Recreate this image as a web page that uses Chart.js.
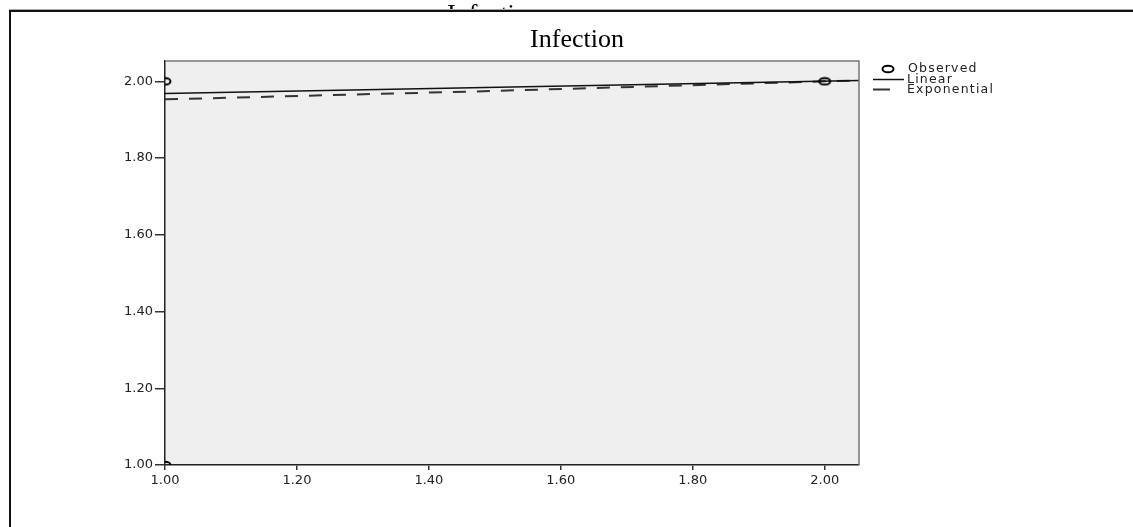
<!DOCTYPE html>
<html>
<head>
<meta charset="utf-8">
<script src="https://cdn.jsdelivr.net/npm/chart.js@4"></script>
<style>body{margin:0;background:#fff}</style>
</head>
<body>
<canvas id="chart" width="1133" height="527"></canvas>
<script>
const chartTitle = 'Infection';
const xTicks = [1.0, 1.2, 1.4, 1.6, 1.8, 2.0];
const yTicks = [1.0, 1.2, 1.4, 1.6, 1.8, 2.0];
const observedX = [1.0, 2.0, 1.0];
const observedY = [2.0, 2.0, 1.0];
const linearX = [1.0, 2.052];
const linearY = [1.968, 2.002];
const expX = [1.0, 1.5, 2.0, 2.052];
const expY = [1.953, 1.975, 2.0, 2.002];
const legendLabels = ['Observed', 'Linear', 'Exponential'];

function pts(xs, ys) {
  return xs.map((x, i) => ({ x: x, y: ys[i] }));
}

// little flattened ring, the observed marker
const ring = document.createElement('canvas');
ring.width = 16;
ring.height = 10;
(function () {
  const c = ring.getContext('2d');
  c.strokeStyle = '#000';
  c.lineWidth = 2;
  c.beginPath();
  c.ellipse(8, 5, 5.5, 3.3, 0, 0, Math.PI * 2);
  c.stroke();
})();

const decor = {
  id: 'decor',
  beforeDraw(chart) {
    const ctx = chart.ctx;
    const a = chart.chartArea;
    ctx.save();
    ctx.fillStyle = '#fff';
    ctx.fillRect(0, 0, chart.width, chart.height);
    ctx.fillStyle = '#efefef';
    ctx.fillRect(a.left, a.top, a.right - a.left, a.bottom - a.top);

    // caption cut off by the frame
    ctx.save();
    ctx.beginPath();
    ctx.rect(0, 0, chart.width, 10);
    ctx.clip();
    ctx.fillStyle = '#000';
    ctx.font = '26px "Liberation Serif"';
    ctx.textAlign = 'left';
    ctx.textBaseline = 'alphabetic';
    ctx.fillText(chartTitle, 447, 22);
    ctx.restore();

    // outer frame
    ctx.strokeStyle = '#aaa';
    ctx.lineWidth = 1;
    ctx.beginPath();
    ctx.moveTo(9, 9.5);
    ctx.lineTo(chart.width, 9.5);
    ctx.stroke();
    ctx.strokeStyle = '#111';
    ctx.lineWidth = 2;
    ctx.beginPath();
    ctx.moveTo(chart.width, 11);
    ctx.lineTo(10, 11);
    ctx.lineTo(10, chart.height);
    ctx.stroke();
    ctx.restore();
  },
  afterDraw(chart) {
    const ctx = chart.ctx;
    const a = chart.chartArea;
    ctx.save();
    ctx.strokeStyle = '#777';
    ctx.lineWidth = 1.5;
    ctx.beginPath();
    ctx.moveTo(a.left, a.top);
    ctx.lineTo(a.right, a.top);
    ctx.lineTo(a.right, a.bottom);
    ctx.stroke();

    ctx.fillStyle = '#000';
    ctx.font = '26px "Liberation Serif"';
    ctx.textAlign = 'center';
    ctx.textBaseline = 'alphabetic';
    ctx.fillText(chartTitle, 577, 47);

    // legend
    ctx.font = '12.5px "DejaVu Sans"';
    ctx.fillStyle = '#222';
    ctx.textAlign = 'left';
    ctx.textBaseline = 'middle';
    if ('letterSpacing' in ctx) ctx.letterSpacing = '1.2px';
    const rows = [69, 79.5, 89.5];
    ctx.drawImage(ring, 888 - 8, rows[0] - 5);
    ctx.fillText(legendLabels[0], 908, rows[0]);
    ctx.strokeStyle = '#111';
    ctx.lineWidth = 1.5;
    ctx.beginPath();
    ctx.moveTo(873, rows[1]);
    ctx.lineTo(904, rows[1]);
    ctx.stroke();
    ctx.fillText(legendLabels[1], 907, rows[1]);
    ctx.strokeStyle = '#333';
    ctx.lineWidth = 2;
    ctx.beginPath();
    ctx.moveTo(873, rows[2]);
    ctx.lineTo(890, rows[2]);
    ctx.stroke();
    ctx.fillText(legendLabels[2], 907, rows[2]);
    ctx.restore();
  }
};

new Chart(document.getElementById('chart'), {
  type: 'scatter',
  data: {
    datasets: [
      {
        label: legendLabels[0],
        data: pts(observedX, observedY),
        pointStyle: ring,
        pointRadius: 6,
        clip: 0
      },
      {
        label: legendLabels[1],
        data: pts(linearX, linearY),
        showLine: true,
        borderColor: '#111',
        borderWidth: 1.5,
        pointRadius: 0,
        clip: 0
      },
      {
        label: legendLabels[2],
        data: pts(expX, expY),
        showLine: true,
        borderColor: '#333',
        borderWidth: 2,
        borderDash: [13, 11],
        pointRadius: 0,
        clip: 0
      }
    ]
  },
  options: {
    responsive: false,
    devicePixelRatio: 1,
    animation: false,
    layout: { padding: { top: 61, right: 274, left: 0, bottom: 0 } },
    plugins: {
      legend: { display: false },
      tooltip: { enabled: false },
      title: { display: false }
    },
    scales: {
      x: {
        type: 'linear',
        min: 1.0,
        max: 2.052,
        afterBuildTicks: s => { s.ticks = xTicks.map(v => ({ value: v })); },
        afterFit: s => { s.height = 62; },
        ticks: {
          callback: v => v.toFixed(2),
          color: '#222',
          font: { family: 'DejaVu Sans', size: 13 },
          padding: 3,
          maxRotation: 0,
          autoSkip: false
        },
        grid: { drawOnChartArea: false, drawTicks: true, tickLength: 5, color: '#333', lineWidth: 1.5 },
        border: { display: true, color: '#222', width: 1.5 }
      },
      y: {
        type: 'linear',
        min: 1.0,
        max: 2.053,
        afterBuildTicks: s => { s.ticks = yTicks.map(v => ({ value: v })); },
        afterFit: s => { s.width = 165; },
        ticks: {
          callback: v => v.toFixed(2),
          color: '#222',
          font: { family: 'DejaVu Sans', size: 13 },
          padding: 2,
          autoSkip: false
        },
        grid: { drawOnChartArea: false, drawTicks: true, tickLength: 10, color: '#333', lineWidth: 1.5 },
        border: { display: true, color: '#222', width: 1.5 }
      }
    }
  },
  plugins: [decor]
});
</script>
</body>
</html>
